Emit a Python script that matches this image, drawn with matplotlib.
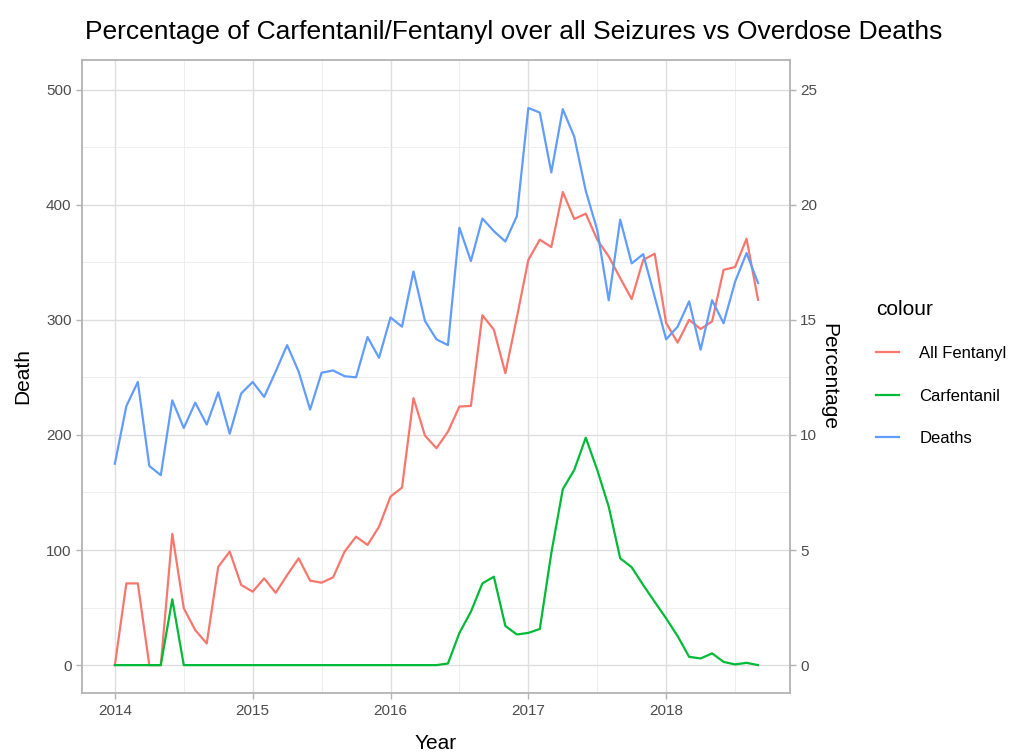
import numpy as np
import matplotlib
matplotlib.use('Agg')
import matplotlib.pyplot as plt
from matplotlib.ticker import MultipleLocator

plt.rcParams['font.family'] = ['Liberation Sans', 'DejaVu Sans']

# monthly data, Jan 2014 - Sep 2018
months = np.arange(57)
years = 2014 + months / 12

deaths = [175, 225, 246, 173, 165, 230, 206, 228, 209, 237, 201, 236,
          246, 233, 255, 278, 255, 222, 254, 256, 251, 250, 285, 267,
          302, 294, 342, 299, 283, 278, 380, 351, 388, 377, 368, 390,
          484, 480, 428, 483, 459, 412, 378, 317, 387, 349, 357, 320,
          283, 294, 316, 274, 317, 297, 333, 358, 332]

# percentages of seizures
all_fentanyl = [0, 3.55, 3.55, 0, 0, 5.7, 2.47, 1.52, 0.94, 4.27, 4.93, 3.48,
                3.19, 3.77, 3.14, 3.91, 4.64, 3.67, 3.58, 3.81, 4.93, 5.58, 5.22, 6.01,
                7.32, 7.71, 11.6, 9.97, 9.42, 10.14, 11.23, 11.26, 15.2, 14.57, 12.68, 15.1,
                17.6, 18.48, 18.16, 20.55, 19.38, 19.61, 18.48, 17.75, 16.81, 15.9, 17.6, 17.87,
                14.86, 14.01, 15.0, 14.6, 14.93, 17.17, 17.29, 18.52, 15.87]

carfentanil = [0, 0, 0, 0, 0, 2.86, 0, 0, 0, 0, 0, 0,
               0, 0, 0, 0, 0, 0, 0, 0, 0, 0, 0, 0,
               0, 0, 0, 0, 0, 0.07, 1.4, 2.32, 3.55, 3.84, 1.7, 1.33,
               1.4, 1.57, 4.86, 7.64, 8.48, 9.88, 8.48, 6.88, 4.64, 4.25, 3.48, 2.75,
               2.03, 1.26, 0.36, 0.29, 0.51, 0.14, 0.03, 0.1, 0]

scale = 20  # 25 % on the right axis == 500 deaths on the left

fig = plt.figure(figsize=(10.24, 7.55), dpi=100)
ax = fig.add_axes([0.080, 0.082, 0.691, 0.839])

ax.plot(years, np.array(all_fentanyl) * scale, color='#F8766D', lw=1.6, label='All Fentanyl')
ax.plot(years, np.array(carfentanil) * scale, color='#00BA38', lw=1.6, label='Carfentanil')
ax.plot(years, deaths, color='#619CFF', lw=1.6, label='Deaths')

ax.set_xlim(2013.761, 2018.895)
ax.set_ylim(-24.3, 526)
ax.xaxis.set_minor_locator(MultipleLocator(0.5))
ax.yaxis.set_major_locator(MultipleLocator(100))
ax.yaxis.set_minor_locator(MultipleLocator(50))
ax.set_xticks([2014, 2015, 2016, 2017, 2018])
ax.set_xticklabels(['2014', '2015', '2016', '2017', '2018'])

ax.grid(which='major', color='#DEDEDE', lw=1.0)
ax.grid(which='minor', color='#EBEBEB', lw=0.6)
ax.set_axisbelow(True)
for s in ax.spines.values():
    s.set_color('#B3B3B3')
    s.set_linewidth(1.3)
ax.tick_params(which='major', colors='#B3B3B3', length=4, width=1, labelcolor='#4D4D4D', labelsize=11)
ax.tick_params(which='minor', length=0)

ax2 = ax.twinx()
ax2.set_ylim(-24.3 / scale, 526 / scale)
ax2.yaxis.set_major_locator(MultipleLocator(5))
for s in ax2.spines.values():
    s.set_visible(False)
ax2.tick_params(colors='#B3B3B3', length=4, width=1, labelcolor='#4D4D4D', labelsize=11)

ax.set_xlabel('Year', fontsize=15, labelpad=12)
ax.set_ylabel('Death', fontsize=15, labelpad=10)
ax2.set_ylabel('Percentage', fontsize=15, rotation=270, labelpad=2, va='bottom')

fig.text(0.083, 0.958, 'Percentage of Carfentanil/Fentanyl over all Seizures vs Overdose Deaths',
         fontsize=19, va='center')

leg = ax.legend(loc='upper left', bbox_to_anchor=(1.101, 0.645), frameon=False,
                title='colour', title_fontsize=15, fontsize=12, labelspacing=1.65,
                handlelength=1.4, handletextpad=1.2)
leg._legend_box.align = 'left'

fig.savefig('out.png', dpi=100)
